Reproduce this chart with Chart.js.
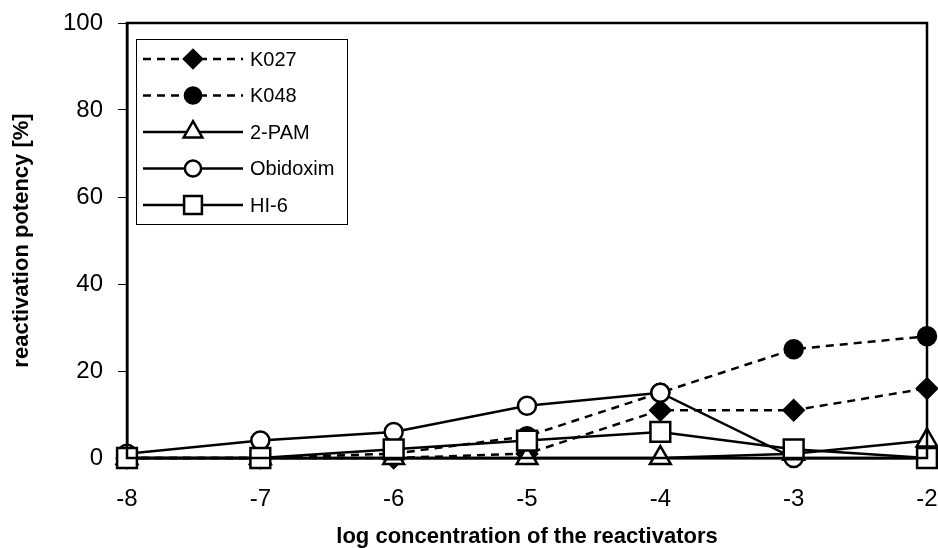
<!DOCTYPE html>
<html>
<head>
<meta charset="utf-8">
<script src="https://cdn.jsdelivr.net/npm/chart.js"></script>
<style>
  body { margin: 0; background: #fff; }
  #wrap { width: 938px; height: 548px; position: relative; }
</style>
</head>
<body>
<div id="wrap"><canvas id="lineChart"></canvas></div>
<script>
// log concentration of the reactivators
const logConc = [-8, -7, -6, -5, -4, -3, -2];
const yTicks = [0, 20, 40, 60, 80, 100];

// reactivation potency [%]
const k027 = [0, 0, 0, 1, 11, 11, 16];
const k048 = [0, 0, 1, 5, 15, 25, 28];
const pam2 = [0, 0, 0, 0, 0, 1, 4];
const obidoxim = [1, 4, 6, 12, 15, 0, 0];
const hi6 = [0, 0, 2, 4, 6, 2, 0];

const seriesNames = ['K027', 'K048', '2-PAM', 'Obidoxim', 'HI-6'];

function toPoints(values) {
    return values.map((v, i) => ({ x: logConc[i], y: v }));
}

function makeDataset(label, values, style, fill, radius, dashed, order) {
    return {
        label: label,
        data: toPoints(values),
        borderColor: '#000',
        borderWidth: 2.5,
        borderDash: dashed ? [8, 6] : [],
        pointStyle: style,
        pointRadius: radius,
        pointHoverRadius: radius,
        pointBackgroundColor: fill,
        pointBorderColor: '#000',
        pointBorderWidth: 2.5,
        tension: 0,
        clip: false,
        order: order
    };
}

const datasets = [
    makeDataset(seriesNames[0], k027, 'rectRot', '#000', 10, true, 5),
    makeDataset(seriesNames[1], k048, 'circle', '#000', 9, true, 4),
    makeDataset(seriesNames[2], pam2, 'triangle', '#fff', 12, false, 3),
    makeDataset(seriesNames[3], obidoxim, 'circle', '#fff', 9, false, 2),
    makeDataset(seriesNames[4], hi6, 'rect', '#fff', 14, false, 1)
];

// frame round the plot area + the boxed legend with line samples
const framePlugin = {
    id: 'frame',
    afterDraw(chart) {
        const ctx = chart.ctx;
        const a = chart.chartArea;
        ctx.save();
        ctx.strokeStyle = '#000';
        ctx.lineWidth = 2.5;
        ctx.setLineDash([]);
        ctx.strokeRect(a.left, a.top, a.right - a.left, a.bottom - a.top);

        // legend
        const box = { x: 136.5, y: 39.5, w: 211, h: 185 };
        ctx.fillStyle = '#fff';
        ctx.fillRect(box.x, box.y, box.w, box.h);
        ctx.lineWidth = 1;
        ctx.strokeRect(box.x, box.y, box.w, box.h);

        const rowY = [59, 95.5, 132, 168.5, 205];
        const byLabel = {};
        chart.data.datasets.forEach(ds => { byLabel[ds.label] = ds; });
        seriesNames.forEach((name, i) => {
            const ds = byLabel[name];
            const y = rowY[i];
            ctx.strokeStyle = '#000';
            ctx.lineWidth = 2.5;
            ctx.setLineDash(ds.borderDash);
            ctx.beginPath();
            ctx.moveTo(143, y);
            ctx.lineTo(243, y);
            ctx.stroke();
            ctx.setLineDash([]);
            ctx.fillStyle = ds.pointBackgroundColor;
            ctx.lineWidth = 2.5;
            Chart.helpers.drawPoint(ctx, {
                pointStyle: ds.pointStyle,
                radius: ds.pointRadius * 0.9,
                rotation: 0,
                borderWidth: 2.5
            }, 193, y);
            ctx.fillStyle = '#000';
            ctx.font = '20px "Liberation Sans", Arial, sans-serif';
            ctx.textBaseline = 'middle';
            ctx.textAlign = 'left';
            ctx.fillText(name, 250, y + 1);
        });
        ctx.restore();
    }
};

const canvas = document.getElementById('lineChart').getContext('2d');
new Chart(canvas, {
    type: 'line',
    data: { datasets: datasets },
    options: {
        responsive: true,
        maintainAspectRatio: false,
        animation: false,
        events: [],
        layout: { autoPadding: false, padding: { left: 0, right: 11, top: 23, bottom: 0 } },
        plugins: {
            legend: { display: false },
            tooltip: { enabled: false }
        },
        scales: {
            x: {
                type: 'linear',
                min: -8,
                max: -2,
                afterFit: scale => {
                    scale.height = 90;
                    scale.paddingLeft = 0;
                    scale.paddingRight = 0;
                },
                afterBuildTicks: scale => { scale.ticks = logConc.map(v => ({ value: v })); },
                grid: { display: true, drawOnChartArea: false, drawTicks: false, tickLength: 0 },
                border: { display: true, color: '#000', width: 2.5 },
                ticks: {
                    color: '#000',
                    padding: 27,
                    maxRotation: 0,
                    font: { family: '"Liberation Sans", Arial, sans-serif', size: 24 }
                },
                title: {
                    display: true,
                    text: 'log concentration of the reactivators',
                    color: '#000',
                    padding: { top: 0, bottom: 0 },
                    font: { family: '"Liberation Sans", Arial, sans-serif', size: 22, weight: 'bold', lineHeight: 1 }
                }
            },
            y: {
                min: 0,
                max: 100,
                afterFit: scale => {
                    scale.width = 127;
                    scale.paddingTop = 0;
                    scale.paddingBottom = 0;
                },
                afterBuildTicks: scale => { scale.ticks = yTicks.map(v => ({ value: v })); },
                grid: { drawOnChartArea: false, color: '#000', lineWidth: 1, tickLength: 9 },
                border: { display: true, color: '#000', width: 2.5 },
                ticks: {
                    color: '#000',
                    padding: 15,
                    font: { family: '"Liberation Sans", Arial, sans-serif', size: 24 }
                },
                title: {
                    display: true,
                    text: 'reactivation potency [%]',
                    color: '#000',
                    padding: { top: 9, bottom: 0 },
                    font: { family: '"Liberation Sans", Arial, sans-serif', size: 22, weight: 'bold', lineHeight: 1.2 }
                }
            }
        }
    },
    plugins: [framePlugin]
});
</script>
</body>
</html>
